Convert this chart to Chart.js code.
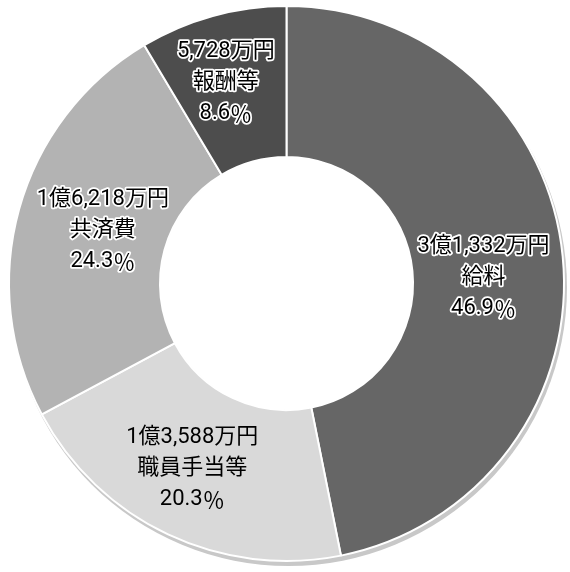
<!DOCTYPE html>
<html>
<head>
<meta charset="utf-8">
<script src="https://cdn.jsdelivr.net/npm/chart.js@4"></script>
<style>
  html, body { margin: 0; padding: 0; background: #fff; }
  #wrap { width: 570px; height: 572px; }
</style>
</head>
<body>
<div id="wrap"><canvas id="myChart" width="570" height="572"></canvas></div>
<script>
// 万円
var categories = ['給料', '職員手当等', '共済費', '報酬等'];
var amounts = [31332, 13588, 16218, 5728];
var percents = ['46.9', '20.3', '24.3', '8.6'];
var colors = ['#666666', '#d9d9d9', '#b3b3b3', '#4d4d4d'];

function yenLabel(v)
{
	var oku = Math.floor(v / 10000);
	var man = v % 10000;
	var s = man.toLocaleString('en-US') + '万円';
	return oku > 0 ? oku + '億' + s : s;
}

var shadowPlugin = {
	id: 'shadow',
	beforeDatasetsDraw: function(chart) {
		var arc = chart.getDatasetMeta(0).data[0];
		if (!arc) return;
		var ctx = chart.ctx;
		ctx.save();
		ctx.fillStyle = '#c8c8c8';
		ctx.beginPath();
		ctx.arc(arc.x + 2, arc.y + 4, arc.outerRadius + 1, 0, Math.PI * 2);
		ctx.fill();
		ctx.fillStyle = '#ffffff';
		ctx.beginPath();
		ctx.arc(arc.x, arc.y, arc.innerRadius, 0, Math.PI * 2);
		ctx.fill();
		ctx.restore();
	}
};

// small nudges so the labels sit where the original put them
var nudge = [[-4, 14], [-8, 2], [11, 1], [-7, -6]];
var latinFont = '22px Roboto, "Noto Sans CJK JP"';
var cjkFont = '22px "Noto Sans CJK JP"';

function drawRuns(ctx, runs, cx, y, halo)
{
	var total = 0;
	runs.forEach(function(r) { ctx.font = r[1]; total += ctx.measureText(r[0]).width; });
	var x = cx - total / 2;
	runs.forEach(function(r) {
		ctx.font = r[1];
		if (halo) {
			ctx.strokeStyle = '#ffffff';
			ctx.lineWidth = 3.5;
			ctx.strokeText(r[0], x, y);
		}
		ctx.fillStyle = '#000000';
		ctx.fillText(r[0], x, y);
		x += ctx.measureText(r[0]).width;
	});
}

var labelPlugin = {
	id: 'sliceLabels',
	afterDatasetsDraw: function(chart) {
		var ctx = chart.ctx;
		var meta = chart.getDatasetMeta(0);
		ctx.save();
		ctx.textAlign = 'left';
		ctx.textBaseline = 'middle';
		ctx.lineJoin = 'round';
		meta.data.forEach(function(arc, i) {
			var p = arc.getCenterPoint();
			var x = p.x + nudge[i][0];
			var y0 = p.y + nudge[i][1];
			var lh = 31;
			var halo = i != 1;
			drawRuns(ctx, [[yenLabel(amounts[i]), latinFont]], x, y0 - lh, halo);
			drawRuns(ctx, [[categories[i], latinFont]], x, y0, halo);
			drawRuns(ctx, [[percents[i], latinFont], ['％', cjkFont]], x, y0 + lh, halo);
		});
		ctx.restore();
	}
};

var ctx = document.getElementById('myChart').getContext('2d');
var myChart = new Chart(ctx, {
	type: 'doughnut',
	data: {
		labels: categories,
		datasets: [{
			data: amounts,
			backgroundColor: colors,
			borderColor: '#ffffff',
			borderWidth: 2
		}]
	},
	options: {
		responsive: false,
		animation: false,
		cutout: '45.6%',
		layout: { padding: { left: 8, right: 5, top: 5, bottom: 10 } },
		plugins: {
			legend: { display: false },
			tooltip: { enabled: false }
		}
	},
	plugins: [shadowPlugin, labelPlugin]
});
</script>
</body>
</html>
